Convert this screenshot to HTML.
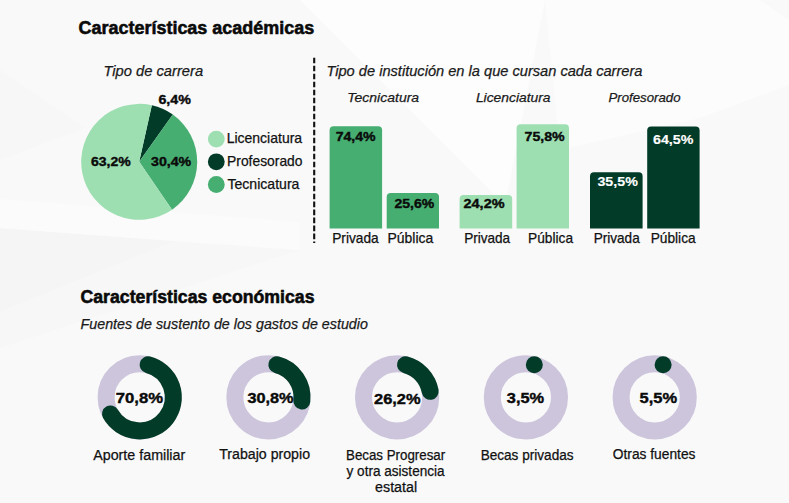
<!DOCTYPE html>
<html lang="es"><head><meta charset="utf-8"><title>Características académicas y económicas</title>
<style>
html,body{margin:0;padding:0;background:#f9f9f9;}
body{width:789px;height:503px;overflow:hidden;}
svg{display:block;font-family:"Liberation Sans", Arial, sans-serif;}
</style></head><body>
<svg width="789" height="503" viewBox="0 0 789 503">
<rect width="789" height="503" fill="#f9f9f9"/>
<polygon points="300,0 545,0 505,205" fill="#fdfdfd"/>
<polygon points="545,0 760,0 789,20 789,85 700,118 560,150" fill="#fcfcfc"/>
<polygon points="0,312 174,241 300,250 0,348" fill="#f7f7f7"/>
<polygon points="0,228 174,241 0,312" fill="#f5f5f5"/>
<polygon points="0,199 300,222 300,250 174,241 0,228" fill="#fbfbfb"/>
<polygon points="0,70 85,128 0,160" fill="#f7f7f7"/>
<path d="M139.20,161.85 L151.85,105.25 A58,58 0 0 1 172.80,114.57 Z" fill="#023b28"/>
<path d="M139.20,161.85 L172.80,114.57 A58,58 0 0 1 172.05,209.65 Z" fill="#47ae72"/>
<path d="M139.20,161.85 L172.05,209.65 A58,58 0 1 1 151.85,105.25 Z" fill="#9ddfb1"/>
<circle cx="216.3" cy="139.1" r="8.4" fill="#9ddfb1"/>
<circle cx="216.3" cy="161.8" r="8.4" fill="#023b28"/>
<circle cx="216.3" cy="184.5" r="8.4" fill="#47ae72"/>
<line x1="314.2" y1="57.8" x2="314.2" y2="243" stroke="#111" stroke-width="2.1" stroke-dasharray="5.55 2.44"/>
<path d="M329.6,228.6 L329.6,130.2 Q329.6,126.2 333.6,126.2 L378.1,126.2 Q382.1,126.2 382.1,130.2 L382.1,228.6 Z" fill="#47ae72"/>
<path d="M386.7,228.6 L386.7,197.0 Q386.7,193.0 390.7,193.0 L435.0,193.0 Q439.0,193.0 439.0,197.0 L439.0,228.6 Z" fill="#47ae72"/>
<path d="M459.6,228.6 L459.6,199.0 Q459.6,195.0 463.6,195.0 L508.20000000000005,195.0 Q512.2,195.0 512.2,199.0 L512.2,228.6 Z" fill="#9ddfb1"/>
<path d="M516.6,228.6 L516.6,128.3 Q516.6,124.3 520.6,124.3 L565.0,124.3 Q569.0,124.3 569.0,128.3 L569.0,228.6 Z" fill="#9ddfb1"/>
<path d="M590.0,228.6 L590.0,176.2 Q590.0,172.2 594.0,172.2 L638.6,172.2 Q642.6,172.2 642.6,176.2 L642.6,228.6 Z" fill="#023b28"/>
<path d="M647.2,228.6 L647.2,130.5 Q647.2,126.5 651.2,126.5 L695.6,126.5 Q699.6,126.5 699.6,130.5 L699.6,228.6 Z" fill="#023b28"/>
<circle cx="139.7" cy="397.3" r="33.6" fill="none" stroke="#cdc5dc" stroke-width="17"/>
<path d="M148.11,364.77 A33.6,33.6 0 1 1 110.49,413.90" fill="none" stroke="#023b28" stroke-width="17" stroke-linecap="round"/>
<circle cx="268.45" cy="397.3" r="33.6" fill="none" stroke="#cdc5dc" stroke-width="17"/>
<path d="M276.86,364.77 A33.6,33.6 0 0 1 301.84,401.04" fill="none" stroke="#023b28" stroke-width="17" stroke-linecap="round"/>
<circle cx="397.1" cy="397.3" r="33.6" fill="none" stroke="#cdc5dc" stroke-width="17"/>
<path d="M405.51,364.77 A33.6,33.6 0 0 1 430.17,391.36" fill="none" stroke="#023b28" stroke-width="17" stroke-linecap="round"/>
<circle cx="525.9" cy="397.3" r="33.6" fill="none" stroke="#cdc5dc" stroke-width="17"/>
<circle cx="534.31" cy="364.77" r="8.5" fill="#023b28"/>
<circle cx="654.7" cy="397.3" r="33.6" fill="none" stroke="#cdc5dc" stroke-width="17"/>
<circle cx="663.11" cy="364.77" r="8.5" fill="#023b28"/>
<text x="78.50" y="33.9" font-size="17.5" font-weight="bold" font-style="normal" textLength="235.76" lengthAdjust="spacingAndGlyphs" fill="#0a0a0a" stroke="#0a0a0a" stroke-width="0.55">Características académicas</text>
<text x="103.45" y="75.5" font-size="14.6" font-weight="normal" font-style="italic" textLength="99.69" lengthAdjust="spacingAndGlyphs" fill="#1a1a1a" stroke="#1a1a1a" stroke-width="0.25">Tipo de carrera</text>
<text x="158.45" y="103.8" font-size="13.0" font-weight="bold" font-style="normal" textLength="32.46" lengthAdjust="spacingAndGlyphs" fill="#0a0a0a" stroke="#0a0a0a" stroke-width="0.4">6,4%</text>
<text x="90.95" y="165.6" font-size="13.0" font-weight="bold" font-style="normal" textLength="39.72" lengthAdjust="spacingAndGlyphs" fill="#0a0a0a" stroke="#0a0a0a" stroke-width="0.4">63,2%</text>
<text x="151.00" y="165.6" font-size="13.0" font-weight="bold" font-style="normal" textLength="40.20" lengthAdjust="spacingAndGlyphs" fill="#0a0a0a" stroke="#0a0a0a" stroke-width="0.4">30,4%</text>
<text x="226.65" y="143.1" font-size="14.3" font-weight="normal" font-style="normal" textLength="75.48" lengthAdjust="spacingAndGlyphs" fill="#111" stroke="#111" stroke-width="0.25">Licenciatura</text>
<text x="227.05" y="165.9" font-size="14.3" font-weight="normal" font-style="normal" textLength="75.45" lengthAdjust="spacingAndGlyphs" fill="#111" stroke="#111" stroke-width="0.25">Profesorado</text>
<text x="227.40" y="189.0" font-size="14.3" font-weight="normal" font-style="normal" textLength="72.07" lengthAdjust="spacingAndGlyphs" fill="#111" stroke="#111" stroke-width="0.25">Tecnicatura</text>
<text x="326.45" y="75.5" font-size="14.6" font-weight="normal" font-style="italic" textLength="316.06" lengthAdjust="spacingAndGlyphs" fill="#1a1a1a" stroke="#1a1a1a" stroke-width="0.25">Tipo de institución en la que cursan cada carrera</text>
<text x="347.30" y="101.7" font-size="13.4" font-weight="normal" font-style="italic" textLength="71.80" lengthAdjust="spacingAndGlyphs" fill="#1a1a1a" stroke="#1a1a1a" stroke-width="0.25">Tecnicatura</text>
<text x="475.90" y="101.7" font-size="13.4" font-weight="normal" font-style="italic" textLength="74.67" lengthAdjust="spacingAndGlyphs" fill="#1a1a1a" stroke="#1a1a1a" stroke-width="0.25">Licenciatura</text>
<text x="608.45" y="101.7" font-size="13.4" font-weight="normal" font-style="italic" textLength="72.13" lengthAdjust="spacingAndGlyphs" fill="#1a1a1a" stroke="#1a1a1a" stroke-width="0.25">Profesorado</text>
<text x="335.70" y="141.0" font-size="13.3" font-weight="bold" font-style="normal" textLength="39.97" lengthAdjust="spacingAndGlyphs" fill="#0a0a0a" stroke="#0a0a0a" stroke-width="0.4">74,4%</text>
<text x="394.45" y="208.1" font-size="13.3" font-weight="bold" font-style="normal" textLength="39.75" lengthAdjust="spacingAndGlyphs" fill="#0a0a0a" stroke="#0a0a0a" stroke-width="0.4">25,6%</text>
<text x="463.55" y="208.0" font-size="13.3" font-weight="bold" font-style="normal" textLength="40.98" lengthAdjust="spacingAndGlyphs" fill="#0a0a0a" stroke="#0a0a0a" stroke-width="0.4">24,2%</text>
<text x="524.50" y="140.5" font-size="13.3" font-weight="bold" font-style="normal" textLength="40.15" lengthAdjust="spacingAndGlyphs" fill="#0a0a0a" stroke="#0a0a0a" stroke-width="0.4">75,8%</text>
<text x="597.45" y="186.0" font-size="13.3" font-weight="bold" font-style="normal" textLength="40.39" lengthAdjust="spacingAndGlyphs" fill="#ffffff" stroke="#ffffff" stroke-width="0.15">35,5%</text>
<text x="653.05" y="143.8" font-size="13.3" font-weight="bold" font-style="normal" textLength="40.32" lengthAdjust="spacingAndGlyphs" fill="#ffffff" stroke="#ffffff" stroke-width="0.15">64,5%</text>
<text x="332.20" y="242.7" font-size="14.2" font-weight="normal" font-style="normal" textLength="46.44" lengthAdjust="spacingAndGlyphs" fill="#111" stroke="#111" stroke-width="0.25">Privada</text>
<text x="387.55" y="242.7" font-size="14.2" font-weight="normal" font-style="normal" textLength="45.70" lengthAdjust="spacingAndGlyphs" fill="#111" stroke="#111" stroke-width="0.25">Pública</text>
<text x="464.15" y="242.7" font-size="14.2" font-weight="normal" font-style="normal" textLength="45.94" lengthAdjust="spacingAndGlyphs" fill="#111" stroke="#111" stroke-width="0.25">Privada</text>
<text x="528.10" y="242.7" font-size="14.2" font-weight="normal" font-style="normal" textLength="44.92" lengthAdjust="spacingAndGlyphs" fill="#111" stroke="#111" stroke-width="0.25">Pública</text>
<text x="593.70" y="242.7" font-size="14.2" font-weight="normal" font-style="normal" textLength="46.01" lengthAdjust="spacingAndGlyphs" fill="#111" stroke="#111" stroke-width="0.25">Privada</text>
<text x="650.70" y="242.7" font-size="14.2" font-weight="normal" font-style="normal" textLength="44.96" lengthAdjust="spacingAndGlyphs" fill="#111" stroke="#111" stroke-width="0.25">Pública</text>
<text x="80.50" y="302.8" font-size="17.5" font-weight="bold" font-style="normal" textLength="234.01" lengthAdjust="spacingAndGlyphs" fill="#0a0a0a" stroke="#0a0a0a" stroke-width="0.55">Características económicas</text>
<text x="80.55" y="328.7" font-size="14.5" font-weight="normal" font-style="italic" textLength="287.36" lengthAdjust="spacingAndGlyphs" fill="#1a1a1a" stroke="#1a1a1a" stroke-width="0.25">Fuentes de sustento de los gastos de estudio</text>
<text x="115.75" y="402.9" font-size="15.2" font-weight="bold" font-style="normal" textLength="47.28" lengthAdjust="spacingAndGlyphs" fill="#0a0a0a" stroke="#0a0a0a" stroke-width="0.4">70,8%</text>
<text x="247.45" y="402.9" font-size="15.2" font-weight="bold" font-style="normal" textLength="46.14" lengthAdjust="spacingAndGlyphs" fill="#0a0a0a" stroke="#0a0a0a" stroke-width="0.4">30,8%</text>
<text x="374.00" y="403.6" font-size="15.2" font-weight="bold" font-style="normal" textLength="46.58" lengthAdjust="spacingAndGlyphs" fill="#0a0a0a" stroke="#0a0a0a" stroke-width="0.4">26,2%</text>
<text x="506.85" y="402.9" font-size="15.2" font-weight="bold" font-style="normal" textLength="37.34" lengthAdjust="spacingAndGlyphs" fill="#0a0a0a" stroke="#0a0a0a" stroke-width="0.4">3,5%</text>
<text x="639.50" y="402.9" font-size="15.2" font-weight="bold" font-style="normal" textLength="37.57" lengthAdjust="spacingAndGlyphs" fill="#0a0a0a" stroke="#0a0a0a" stroke-width="0.4">5,5%</text>
<text x="93.20" y="460.2" font-size="14.0" font-weight="normal" font-style="normal" textLength="92.06" lengthAdjust="spacingAndGlyphs" fill="#111" stroke="#111" stroke-width="0.25">Aporte familiar</text>
<text x="219.25" y="458.6" font-size="14.0" font-weight="normal" font-style="normal" textLength="90.76" lengthAdjust="spacingAndGlyphs" fill="#111" stroke="#111" stroke-width="0.25">Trabajo propio</text>
<text x="346.00" y="460.0" font-size="14.0" font-weight="normal" font-style="normal" textLength="99.22" lengthAdjust="spacingAndGlyphs" fill="#111" stroke="#111" stroke-width="0.25">Becas Progresar</text>
<text x="346.55" y="475.6" font-size="14.0" font-weight="normal" font-style="normal" textLength="98.03" lengthAdjust="spacingAndGlyphs" fill="#111" stroke="#111" stroke-width="0.25">y otra asistencia</text>
<text x="375.10" y="491.6" font-size="14.0" font-weight="normal" font-style="normal" textLength="42.03" lengthAdjust="spacingAndGlyphs" fill="#111" stroke="#111" stroke-width="0.25">estatal</text>
<text x="480.65" y="460.2" font-size="14.0" font-weight="normal" font-style="normal" textLength="92.94" lengthAdjust="spacingAndGlyphs" fill="#111" stroke="#111" stroke-width="0.25">Becas privadas</text>
<text x="612.75" y="458.6" font-size="14.0" font-weight="normal" font-style="normal" textLength="82.69" lengthAdjust="spacingAndGlyphs" fill="#111" stroke="#111" stroke-width="0.25">Otras fuentes</text>
</svg>
</body></html>
